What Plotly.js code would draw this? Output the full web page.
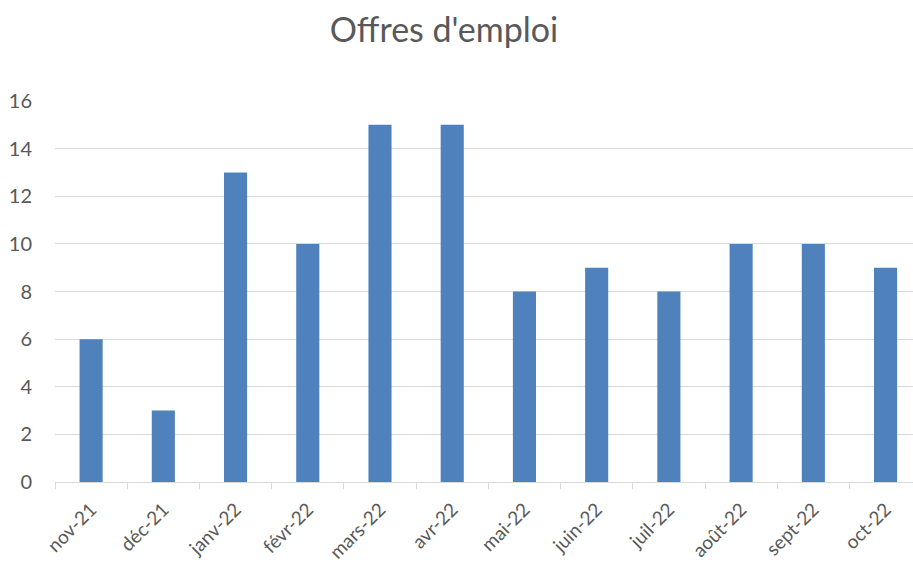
<!DOCTYPE html>
<html>
<head>
<meta charset="utf-8">
<script src="https://cdn.plot.ly/plotly-3.0.1.min.js"></script>
<style>html,body{margin:0;padding:0;background:#fff;}#chart{width:913px;height:564px;}</style>
</head>
<body>
<div id="chart"></div>
<script>
var months = ["nov-21","déc-21","janv-22","févr-22","mars-22","avr-22","mai-22","juin-22","juil-22","août-22","sept-22","oct-22"];
var offres = [6,3,13,10,15,15,8,9,8,10,10,9];
var yTicks = [0,2,4,6,8,10,12,14,16];

var trace = {
  type: 'bar',
  x: months,
  y: offres,
  marker: {color: '#4F81BD'},
  width: 0.32,
  hoverinfo: 'x+y'
};

var layout = {
  width: 913,
  height: 564,
  margin: {l: 55, r: 0, t: 101, b: 82},
  paper_bgcolor: '#fff',
  plot_bgcolor: '#fff',
  showlegend: false,
  font: {family: 'Lato, "Liberation Sans", sans-serif', color: '#595959', size: 19},
  title: {
    text: "Offres d'emploi",
    font: {size: 34, color: '#595959', family: 'Lato, "Liberation Sans", sans-serif'},
    x: 444/913, xanchor: 'center',
    y: 1 - 30/564, yanchor: 'middle', yref: 'container'
  },
  xaxis: {
    type: 'category',
    range: [-0.5, 11.38],
    tickangle: -45,
    showline: true,
    linecolor: '#D9D9D9',
    linewidth: 1,
    ticks: 'outside',
    tickson: 'boundaries',
    ticklen: 6,
    tickcolor: '#D9D9D9',
    showgrid: false,
    ticklabelstandoff: 8,
    tickfont: {size: 19, color: '#595959'},
    fixedrange: true
  },
  yaxis: {
    range: [0, 16],
    tickvals: yTicks,
    ticktext: yTicks.map(String),
    showgrid: true,
    gridcolor: '#D9D9D9',
    gridwidth: 1,
    zeroline: false,
    showline: false,
    ticks: '',
    ticklabelstandoff: 22,
    tickfont: {size: 20, color: '#595959'},
    fixedrange: true
  }
};

Plotly.newPlot('chart', [trace], layout, {displayModeBar: false, staticPlot: true});
</script>
</body>
</html>
